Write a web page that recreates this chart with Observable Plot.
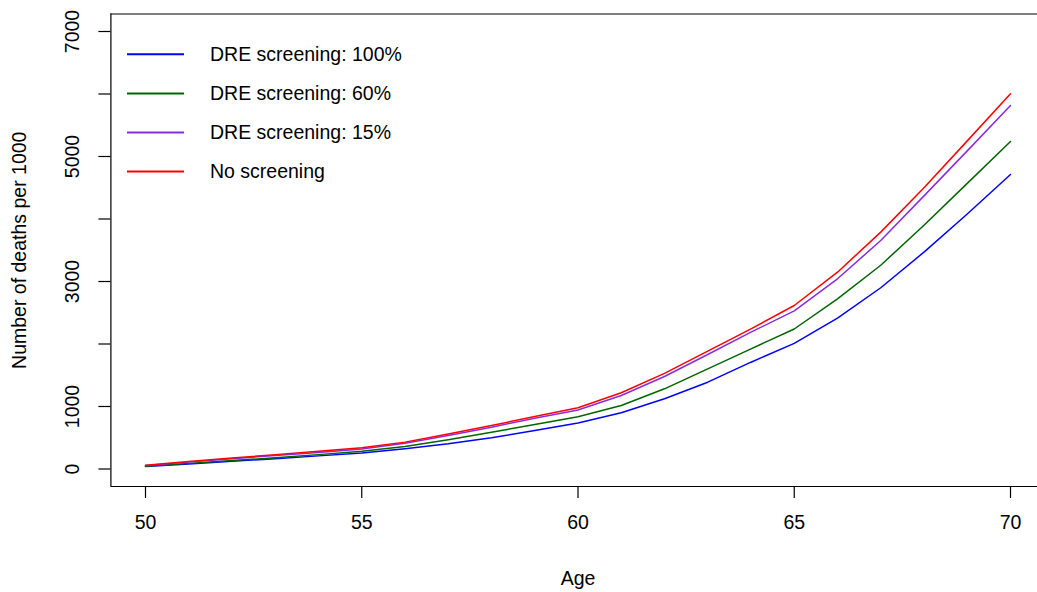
<!DOCTYPE html>
<html>
<head>
<meta charset="utf-8">
<script src="https://cdn.jsdelivr.net/npm/d3@7"></script>
<script src="https://cdn.jsdelivr.net/npm/@observablehq/plot@0.6"></script>
<style>
  html, body { margin: 0; padding: 0; background: #fff; }
  #chart { width: 1037px; height: 592px; overflow: hidden; }
  svg { font-family: "Liberation Sans", Arial, Helvetica, sans-serif; }
</style>
</head>
<body>
<div id="chart"></div>
<script>
const ages = [50,51,52,53,54,55,56,57,58,59,60,61,62,63,64,65,66,67,68,69,70];
const dre100 = [40,80,125,165,210,255,323,403,499,616,736,899,1123,1389,1709,2010,2413,2900,3470,4080,4712];
const dre60  = [45,90,135,180,230,285,360,467,589,712,835,1016,1283,1603,1923,2240,2723,3260,3900,4570,5240];
const dre15  = [55,110,165,215,265,320,413,536,669,813,945,1176,1480,1832,2189,2530,3043,3656,4370,5090,5816];
const noScreen = [60,120,175,230,285,340,430,560,695,840,980,1220,1530,1885,2243,2616,3149,3790,4500,5250,6005];

const seriesNames = ["DRE screening: 100%", "DRE screening: 60%", "DRE screening: 15%", "No screening"];
const seriesColors = ["#0000FF", "#006400", "#8A2BE2", "#FF0000"];
const seriesValues = [dre100, dre60, dre15, noScreen];

const xTicks = [50, 55, 60, 65, 70];
const yTicks = [0,1000,2000,3000,4000,5000,6000,7000];
const yLabels = [0, 1000, 3000, 5000, 7000];

const xLabel = "Age";
const yLabel = "Number of deaths per 1000";

// R-style 4% axis expansion
const xDomain = [50 - 0.04 * 20, 70 + 0.04 * 20];
const yDomain = [0 - 0.04 * 7000, 7000 + 0.04 * 7000];

const rows = [];
seriesValues.forEach((vals, i) => {
  vals.forEach((v, j) => rows.push({age: ages[j], value: v, series: seriesNames[i]}));
});

const W = 1037, H = 592;
const mL = 110.4, mT = 13.5, mB = 106;
const FS = 19.5;

const plot = Plot.plot({
  width: W,
  height: H,
  marginLeft: mL,
  marginRight: 0,
  marginTop: mT,
  marginBottom: mB,
  style: {fontSize: FS + "px", fontFamily: '"Liberation Sans", Arial, Helvetica, sans-serif', background: "#fff", overflow: "hidden"},
  x: {domain: xDomain, range: [mL, mL + 934.2]},
  y: {domain: yDomain},
  color: {domain: seriesNames, range: seriesColors},
  marks: [
    Plot.line(rows, {x: "age", y: "value", z: "series", stroke: "series", strokeWidth: 1.5}),
    // box (right side lies beyond the image, as in the reference)
    Plot.ruleX([xDomain[0]], {stroke: "#000", strokeWidth: 1.2}),
    Plot.ruleY(yDomain, {stroke: "#000", strokeWidth: 1.2}),
    Plot.axisY({ticks: yTicks, tickSize: 12, tickFormat: () => "", label: null, stroke: "#000", strokeWidth: 1.2}),
    Plot.text(yLabels, {y: d => d, text: d => String(d), frameAnchor: "left", dx: -38.5, rotate: -90, textAnchor: "middle", lineAnchor: "middle", fill: "#000", fontSize: FS}),
    Plot.axisX({ticks: xTicks, tickSize: 12, tickPadding: 17, tickFormat: d => String(d), label: null, stroke: "#000", strokeWidth: 1.2, fontSize: FS, fill: "#000"}),
    Plot.text([xLabel], {x: () => d3.mean(xDomain), frameAnchor: "bottom", dy: 92, text: d => d, fill: "#000", fontSize: FS, lineAnchor: "middle"}),
    Plot.text([yLabel], {y: () => d3.mean(yDomain), frameAnchor: "left", dx: -91, rotate: -90, text: d => d, fill: "#000", fontSize: FS, textAnchor: "middle", lineAnchor: "middle"})
  ]
});

// legend inside the plot box (top-left)
const svg = d3.select(plot);
const leg = svg.append("g").attr("class", "legend").attr("text-anchor", "start");
seriesNames.forEach((name, i) => {
  const cy = 54.3 + i * 39.1;
  leg.append("line")
    .attr("x1", 127).attr("x2", 184)
    .attr("y1", cy).attr("y2", cy)
    .attr("stroke", seriesColors[i]).attr("stroke-width", 2);
  leg.append("text")
    .attr("x", 210).attr("y", cy).attr("dy", "0.35em")
    .attr("fill", "#000")
    .attr("text-anchor", "start")
    .style("font-size", FS + "px")
    .text(name);
});

document.getElementById("chart").appendChild(plot);
</script>
</body>
</html>
